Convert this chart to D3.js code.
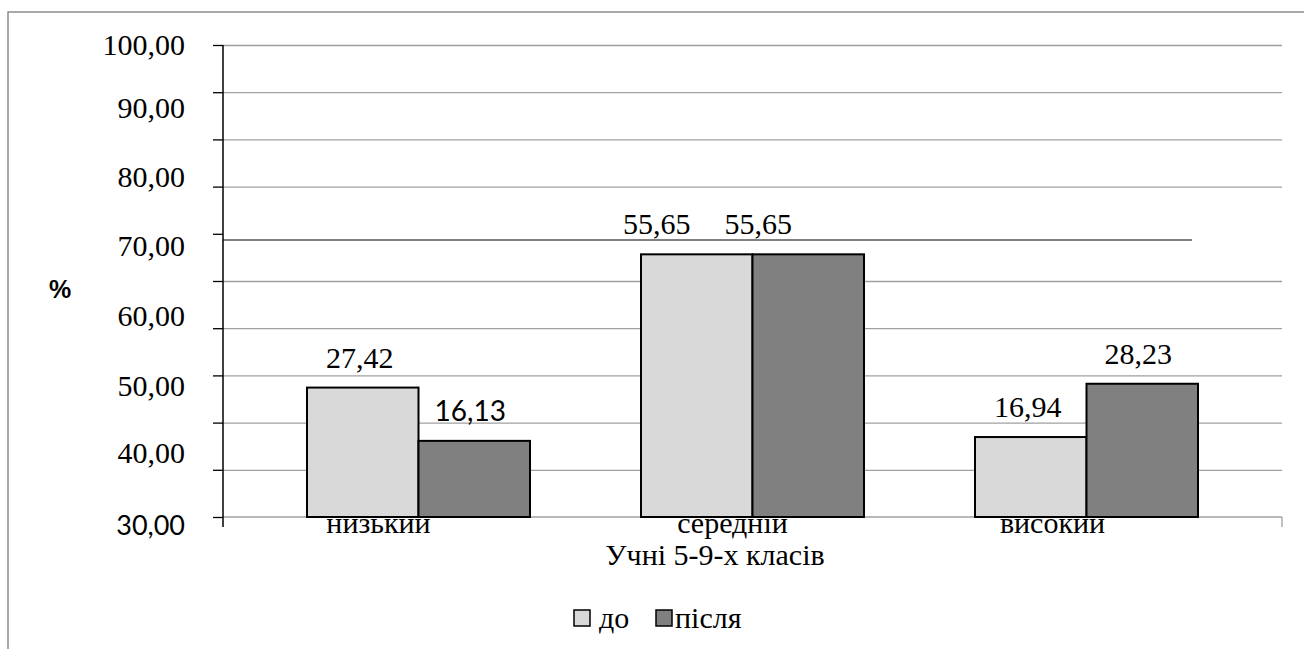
<!DOCTYPE html>
<html>
<head>
<meta charset="utf-8">
<script src="https://cdn.jsdelivr.net/npm/d3@7"></script>
<style>
  html, body { margin: 0; padding: 0; background: #fff; }
  svg { display: block; }
</style>
</head>
<body>
<svg id="chart" width="1304" height="649"></svg>
<script>
// Levels of learners before and after the programme
const categories = ["низький", "середній", "високий"];
const seriesNames = ["до", "після"];
const beforeValues = [27.42, 55.65, 16.94];
const afterValues = [16.13, 55.65, 28.23];
const valueLabels = [["27,42", "16,13"], ["55,65", "55,65"], ["16,94", "28,23"]];

// Printed axis captions and the scale value each caption sits beside
const yTickLabels = ["100,00", "90,00", "80,00", "70,00", "60,00", "50,00", "40,00", "30,00"];
const yTickLabelAt = [100, 86.8, 72, 57.5, 42.7, 27.7, 13.6, -1.9];
const gridValues = [0, 10, 20, 30, 40, 50, 60, 70, 80, 90, 100];
const axisTitle = "Учні 5-9-х класів";
const unitLabel = "%";

const colors = { "до": "#d9d9d9", "після": "#808080" };
const SERIF = "Liberation Serif";
const SANS = "Lato";

const svg = d3.select("#chart");

const plot = { left: 223, right: 1282, top: 45, bottom: 517 };

const y = d3.scaleLinear().domain([0, 100]).range([plot.bottom, plot.top]);
const x = d3.scaleBand().domain(categories).range([251.5, 1253.5]).padding(0);
const groupWidth = 223;
const x1 = d3.scaleBand().domain(seriesNames).range([0, groupWidth]).padding(0);
const groupOffset = (x.bandwidth() - groupWidth) / 2;

// outer frame
svg.append("rect")
  .attr("x", 8).attr("y", 12)
  .attr("width", 1320).attr("height", 660)
  .attr("fill", "none").attr("stroke", "#8c8c8c").attr("stroke-width", 1.5);

// horizontal gridlines (the 60 line is replaced by a shorter rule below)
const grid = svg.append("g")
  .attr("transform", `translate(${plot.left},0)`)
  .call(d3.axisLeft(y)
    .tickValues(gridValues.filter(v => v !== 0 && v !== 60))
    .tickSize(-(plot.right - plot.left))
    .tickFormat(""));
grid.select(".domain").remove();
grid.selectAll(".tick line").attr("stroke", "#a0a0a0").attr("stroke-width", 1.3);

// shorter darker rule just under the 60 level
svg.append("line")
  .attr("x1", plot.left).attr("x2", plot.right - 90)
  .attr("y1", y(58.7)).attr("y2", y(58.7))
  .attr("stroke", "#808080").attr("stroke-width", 2);

// x axis baseline with the closing tick at the right end
svg.append("line")
  .attr("x1", plot.left).attr("x2", plot.right)
  .attr("y1", y(0)).attr("y2", y(0))
  .attr("stroke", "#a0a0a0").attr("stroke-width", 1.5);
svg.append("line")
  .attr("x1", plot.right).attr("x2", plot.right)
  .attr("y1", y(0)).attr("y2", y(0) + 10)
  .attr("stroke", "#a0a0a0").attr("stroke-width", 1.3);

// category names, partly tucked under the bars
const categoryNudge = [-40, -20, -34];
svg.append("g").selectAll("text")
  .data(categories)
  .join("text")
  .attr("font-family", SERIF)
  .attr("x", (d, i) => x(d) + x.bandwidth() / 2 + categoryNudge[i])
  .attr("y", 533)
  .attr("text-anchor", "middle")
  .attr("font-size", 30)
  .text(d => d);

// bars
const rows = categories.map((c, i) => ({ cat: c, i, values: [beforeValues[i], afterValues[i]] }));
const groups = svg.append("g").selectAll("g")
  .data(rows)
  .join("g")
  .attr("transform", d => `translate(${x(d.cat) + groupOffset},0)`);

groups.selectAll("rect")
  .data(d => d.values.map((v, k) => ({ s: seriesNames[k], v, k, i: d.i })))
  .join("rect")
  .attr("x", d => x1(d.s))
  .attr("width", x1.bandwidth())
  .attr("y", d => y(d.v))
  .attr("height", d => y(0) - y(d.v))
  .attr("fill", d => colors[d.s])
  .attr("stroke", "#000")
  .attr("stroke-width", 2);

// value labels above bars; the middle pair is nudged left
const labelShift = { "середній": [-40, -50] };
const isSansLabel = d => d.i === 0 && d.k === 1;
groups.selectAll("text")
  .data(d => d.values.map((v, k) => ({ s: seriesNames[k], v, k, i: d.i, cat: d.cat })))
  .join("text")
  .attr("font-family", d => isSansLabel(d) ? SANS : SERIF)
  .attr("x", d => x1(d.s) + x1.bandwidth() / 2 + (labelShift[d.cat] ? labelShift[d.cat][d.k] : (d.k === 1 ? -4 : -3)))
  .attr("y", d => y(d.v) - 20)
  .attr("text-anchor", "middle")
  .attr("font-size", d => isSansLabel(d) ? 28 : 30)
  .text(d => valueLabels[d.i][d.k]);

// y axis line and ticks
const yAxis = svg.append("g")
  .attr("transform", `translate(${plot.left},0)`)
  .call(d3.axisLeft(y).tickValues(gridValues).tickSize(10).tickSizeOuter(0).tickFormat(""));
yAxis.select(".domain").remove();
yAxis.selectAll(".tick line").attr("stroke", "#000").attr("stroke-width", 1.3);
svg.append("line")
  .attr("x1", plot.left).attr("x2", plot.left)
  .attr("y1", y(100)).attr("y2", y(0) + 10)
  .attr("stroke", "#000").attr("stroke-width", 1.5);

// y captions
const lastTick = yTickLabels.length - 1;
svg.append("g").selectAll("text")
  .data(yTickLabels)
  .join("text")
  .attr("font-family", (d, i) => i === lastTick ? SANS : SERIF)
  .attr("x", 185)
  .attr("y", (d, i) => y(yTickLabelAt[i]))
  .attr("dy", "0.34em")
  .attr("text-anchor", "end")
  .attr("font-size", (d, i) => i === lastTick ? 27 : 30)
  .text(d => d);

// unit label
svg.append("text")
  .attr("font-family", "Liberation Sans")
  .attr("x", 60).attr("y", 298)
  .attr("text-anchor", "middle")
  .attr("font-size", 25)
  .attr("font-weight", "bold")
  .text(unitLabel);

// axis title
svg.append("text")
  .attr("font-family", SERIF)
  .attr("x", 715).attr("y", 565)
  .attr("text-anchor", "middle")
  .attr("font-size", 30)
  .text(axisTitle);

// legend
const legendItems = [{ name: seriesNames[0], box: 574, text: 599 }, { name: seriesNames[1], box: 656, text: 675 }];
const legend = svg.append("g");
legend.selectAll("rect")
  .data(legendItems)
  .join("rect")
  .attr("x", d => d.box).attr("y", 610)
  .attr("width", 16).attr("height", 16)
  .attr("fill", d => colors[d.name])
  .attr("stroke", "#000").attr("stroke-width", 1.5);
legend.selectAll("text")
  .data(legendItems)
  .join("text")
  .attr("font-family", SERIF)
  .attr("x", d => d.text).attr("y", 628)
  .attr("font-size", 30)
  .text(d => d.name);
</script>
</body>
</html>
